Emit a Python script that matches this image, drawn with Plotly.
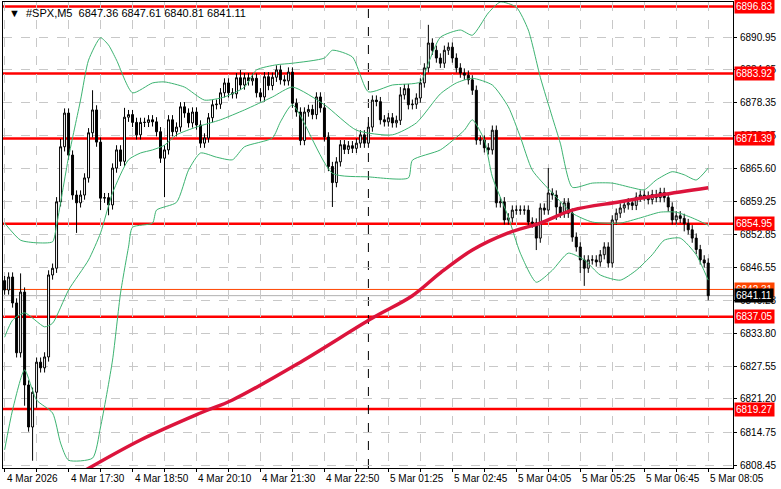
import plotly.graph_objects as go

closes = [6842.2,6844.7,6839.7,6830.1,6841.8,6823.9,6815.8,6822.5,6828.3,6827.2,
6829.3,6845.1,6846.4,6859.2,6869.8,6876.3,6868.2,6860.5,6859.0,6860.5,
6863.8,6872.5,6876.9,6870.7,6859.9,6860.0,6858.6,6865.7,6869.2,6867.0,
6875.5,6876.0,6874.5,6872.1,6874.5,6874.5,6875.0,6874.6,6872.7,6867.6,
6869.2,6875.0,6872.7,6873.6,6877.5,6876.3,6874.4,6876.5,6874.0,6870.5,
6871.5,6875.4,6877.9,6878.0,6880.2,6882.1,6880.2,6880.0,6883.1,6881.7,
6883.1,6882.5,6883.0,6880.2,6879.4,6883.3,6881.6,6883.2,6884.6,6882.7,
6882.5,6884.2,6878.2,6876.5,6871.0,6876.5,6877.0,6876.0,6879.4,6877.3,
6871.7,6866.0,6862.9,6866.9,6870.2,6869.3,6870.0,6869.5,6870.5,6872.1,
6870.5,6873.6,6878.8,6878.5,6875.0,6874.6,6875.4,6874.4,6874.9,6879.8,
6881.0,6877.9,6878.0,6879.2,6882.1,6885.0,6889.8,6888.4,6886.9,6885.9,
6888.4,6889.0,6886.9,6885.0,6884.0,6883.6,6882.7,6880.7,6871.1,6871.1,
6869.6,6869.2,6873.0,6859.0,6859.2,6855.7,6856.1,6857.6,6857.6,6857.6,
6857.6,6855.3,6855.1,6852.2,6858.0,6857.6,6860.9,6860.5,6858.2,6857.0,
6859.0,6857.0,6852.4,6850.5,6848.0,6846.4,6848.0,6848.0,6847.6,6849.0,
6850.5,6847.4,6855.7,6857.0,6858.0,6858.6,6859.0,6858.5,6860.1,6860.5,
6860.3,6859.6,6860.6,6860.0,6861.0,6860.0,6858.2,6855.7,6856.5,6856.0,
6855.0,6853.8,6852.2,6850.0,6848.0,6847.4,6841.11]
first_open = 6844.0
wick_up_default = 0.9
wick_dn_default = 0.9
wick_up = {4: 3.6, 22: 3.8, 106: 3.5, 136: 4.8, 14: 1.5, 59: 1.5, 99: 1.5, 30: 1.8}
wick_dn = {7: 6.5, 18: 5.8, 24: 2.3, 40: 7.5, 82: 4.7, 133: 2.3, 145: 3.4, 5: 4.0, 8: 3.0,
           26: 2.0, 144: 2.5, 138: 2.5, 170: 1.5}

time_labels = ["4 Mar 2026","4 Mar 17:30","4 Mar 18:50","4 Mar 20:10","4 Mar 21:30","4 Mar 22:50",
               "5 Mar 01:25","5 Mar 02:45","5 Mar 04:05","5 Mar 05:25","5 Mar 06:45","5 Mar 08:05"]
label_idx = [0,16,32,48,64,80,96,112,128,144,160,176]

upper_i = [0,4,8,12,13,16,19,21,24,26,28,32,37,40,45,50,55,60,63,68,72,80,82,87,91,97,104,106,109,114,117,121,124,128,131,134,137,139,142,147,152,157,160,163,167,170,173,176]
upper_v = [6855.1,6851.8,6851.3,6851.5,6854.7,6867.8,6878.8,6886.5,6890.8,6889.4,6886.5,6880.2,6882.1,6882.3,6881.3,6878.8,6879.4,6881.3,6884.6,6885.6,6885.9,6886.9,6888.4,6887.1,6880.4,6881.7,6882.3,6885.9,6890.9,6892.3,6891.3,6895.6,6897.7,6896.7,6892.3,6883.2,6875.5,6870.5,6862.0,6862.8,6862.8,6861.9,6861.5,6863.4,6865.0,6864.4,6863.4,6865.7]
mid_i = [0,2,5,10,12,16,21,24,27,31,34,37,40,43,48,54,60,67,72,80,88,97,103,109,113,117,122,126,129,132,137,142,147,154,159,164,168,172,176]
mid_v = [6833.1,6836.4,6837.8,6835.1,6835.8,6842.2,6848.0,6853.2,6860.9,6867.3,6868.6,6869.2,6870.1,6872.1,6873.6,6875.0,6876.9,6879.4,6881.3,6877.9,6873.0,6872.1,6874.4,6880.0,6882.1,6883.0,6881.7,6877.5,6871.7,6865.3,6860.9,6857.0,6855.3,6855.1,6856.1,6857.2,6857.2,6856.1,6854.7]
low_i = [0,2,5,8,12,14,16,22,24,27,29,31,32,37,38,43,46,49,53,57,60,67,69,72,82,91,101,102,109,115,117,120,122,126,129,133,137,141,145,149,154,158,162,165,169,173,176]
low_v = [6811.4,6819.1,6826.8,6821.0,6818.5,6812.7,6809.4,6809.8,6815.8,6828.7,6841.6,6850.5,6854.3,6855.1,6857.6,6859.1,6865.3,6868.6,6867.8,6867.3,6869.8,6871.5,6874.6,6877.9,6864.7,6864.0,6863.8,6867.2,6869.2,6873.0,6875.0,6871.1,6864.0,6856.3,6849.3,6843.7,6846.0,6849.3,6848.0,6845.1,6844.1,6846.0,6849.0,6851.8,6852.2,6849.0,6844.1]
ma_i = [18,34,49,57,74,92,102,109,117,126,134,142,154,164,176]
ma_v = [6806.5,6813.3,6818.5,6821.0,6828.3,6836.8,6841.1,6845.5,6849.9,6853.2,6855.1,6857.6,6859.2,6860.5,6861.9]

levels = [6896.83, 6883.92, 6871.39, 6854.95, 6837.05, 6819.27]
ytick_vals = [6890.95,6884.65,6878.35,6872.05,6865.60,6859.25,6852.85,6846.55,6840.23,6833.80,6827.55,6821.20,6814.75,6808.45]
last_price = 6841.11
ask_price = 6842.31
vline_idx = 91
header = "#SPX,M5  6847.36 6847.61 6840.81 6841.11"

n = len(closes)
idx = list(range(n))
opens = [first_open] + closes[:-1]
highs = [max(o, c) + wick_up.get(i, wick_up_default) for i, (o, c) in enumerate(zip(opens, closes))]
lows = [min(o, c) - wick_dn.get(i, wick_dn_default) for i, (o, c) in enumerate(zip(opens, closes))]

fig = go.Figure()
for L in levels:
    fig.add_hline(y=L, line=dict(color="#FF0000", width=2.5), layer="below")
fig.add_hline(y=ask_price, line=dict(color="#FF4500", width=1), layer="below")
fig.add_hline(y=last_price, line=dict(color="#B0B0B0", width=1), layer="below")
fig.add_vline(x=vline_idx, line=dict(color="black", width=1, dash="dash"), layer="below")

green = "#3CB371"
for xi, yv in [(upper_i, upper_v), (mid_i, mid_v), (low_i, low_v)]:
    fig.add_trace(go.Scatter(x=xi, y=yv, mode="lines", line=dict(color=green, width=1, shape="spline", smoothing=0.6), hoverinfo="skip"))
fig.add_trace(go.Candlestick(x=idx, open=opens, high=highs, low=lows, close=closes,
    increasing=dict(line=dict(color="black", width=1), fillcolor="white"),
    decreasing=dict(line=dict(color="black", width=1), fillcolor="black"),
    whiskerwidth=0))
fig.add_trace(go.Scatter(x=ma_i, y=ma_v, mode="lines", line=dict(color="#DC143C", width=3.5, shape="spline"), hoverinfo="skip"))

fam = "Liberation Sans, DejaVu Sans"
font = dict(family=fam, size=10, color="black")
ann = []
for L in levels:
    ann.append(dict(x=1, xref="paper", y=L, yref="y", xanchor="left", yanchor="middle", xshift=1,
                    text="%.2f" % L, showarrow=False, bgcolor="#FF0000", font=dict(family=fam, size=10, color="white"),
                    borderpad=1))
ann.append(dict(x=1, xref="paper", y=ask_price, yref="y", xanchor="left", yanchor="middle", xshift=1,
                text="%.2f" % ask_price, showarrow=False, bgcolor="#FF4500", font=dict(family=fam, size=10, color="white"), borderpad=1))
ann.append(dict(x=1, xref="paper", y=last_price, yref="y", xanchor="left", yanchor="middle", xshift=1,
                text="%.2f" % last_price, showarrow=False, bgcolor="black", font=dict(family=fam, size=10, color="white"), borderpad=1))
for li, lt in zip(label_idx, time_labels):
    ann.append(dict(x=li, xref="x", y=0, yref="paper", xanchor="left", yanchor="top", xshift=0, yshift=-3,
                    text=lt, showarrow=False, font=font))
ann.append(dict(x=0, xref="paper", y=1, yref="paper", xanchor="left", yanchor="top", xshift=4, yshift=-3,
                text="▼  " + header, showarrow=False, font=dict(family=fam, size=11, color="black")))

fig.update_layout(width=781, height=489, margin=dict(l=3, r=48, t=2, b=21),
    paper_bgcolor="white", plot_bgcolor="white", showlegend=False, annotations=ann, font=font)
fig.update_xaxes(range=[-0.4, 182.2], tickvals=list(range(0, 184, 8)), ticktext=[""] * 23,
    showgrid=True, gridcolor="#C8C8C8", griddash="dash", gridwidth=1, ticks="outside", ticklen=3,
    tickcolor="black", showline=True, linecolor="black", mirror=True, rangeslider=dict(visible=False), zeroline=False)
fig.update_yaxes(range=[6807.9, 6897.7], side="right", tickvals=ytick_vals, ticktext=["%.2f" % v for v in ytick_vals],
    showgrid=True, gridcolor="#C8C8C8", griddash="dash", ticks="outside", ticklen=3, tickcolor="black",
    showline=True, linecolor="black", mirror=True, zeroline=False, tickfont=font, ticklabelstandoff=1)
fig.write_html("out.html", config={"displayModeBar": False})

with open("out.html", encoding="utf-8") as f:
    page = f.read()
page = page.replace("<head>", "<head><style>html,body{margin:0;padding:0;overflow:hidden;}</style>", 1)
with open("out.html", "w", encoding="utf-8") as f:
    f.write(page)
